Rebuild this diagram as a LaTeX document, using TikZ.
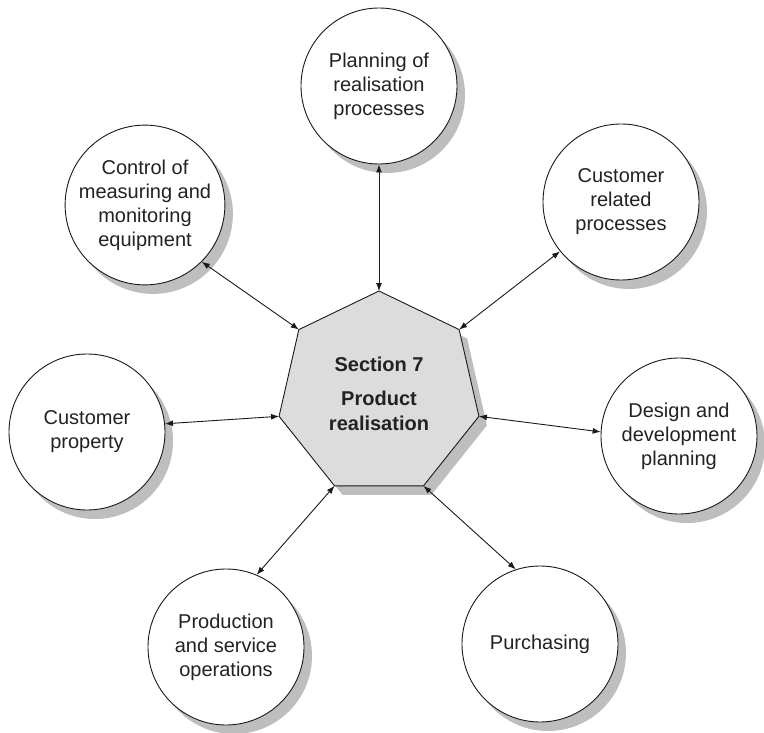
\documentclass[tikz,border=0pt]{standalone}
\usepackage{fontspec}
\setmainfont{Liberation Sans}
\usetikzlibrary{shapes.geometric,shadows,arrows.meta}

\definecolor{inkline}{HTML}{1A1A1A}
\definecolor{inktext}{HTML}{222222}
\definecolor{hubfill}{HTML}{DCDCDC}
\definecolor{shadowgray}{HTML}{BEBEBE}

\tikzset{
  castshadow/.style={drop shadow={shadow xshift=8pt, shadow yshift=-9pt, fill=shadowgray, opacity=1}},
  procbubble/.style={circle, draw=inkline, line width=0.9pt, fill=white, minimum size=156pt,
    inner sep=0pt, align=center, text=inktext, font=\fontsize{20}{24}\selectfont, castshadow},
  hubshape/.style={regular polygon, regular polygon sides=7, minimum size=205pt, inner sep=0pt,
    outer sep=0pt, draw=inkline, line width=0.9pt, fill=hubfill, align=center, text=inktext,
    font=\bfseries\fontsize{20}{25}\selectfont, castshadow},
  conn/.style={{Latex[length=8pt,width=6pt]}-{Latex[length=8pt,width=6pt]}, line width=0.9pt, draw=inkline}
}

\begin{document}
\begin{tikzpicture}[x=1pt, y=-1pt]
  \useasboundingbox (0,0) rectangle (764,733);

  % central hub
  \node[hubshape] (hept) at (379,393.5) {Section 7\\[9pt]Product\\realisation};

  % surrounding processes
  \node[procbubble] (plan)   at (379,86)  {Planning of\\realisation\\processes};
  \node[procbubble] (cust)   at (621,202) {Customer\\related\\processes};
  \node[procbubble] (ctrl)   at (145,205) {Control of\\measuring and\\monitoring\\equipment};
  \node[procbubble] (prop)   at (87,432)  {Customer\\property};
  \node[procbubble] (design) at (679,436) {Design and\\development\\planning};
  \node[procbubble] (prod)   at (226,647) {Production\\and service\\operations};
  \node[procbubble] (purch)  at (540,644) {Purchasing};

  % two-way links to the hub corners
  \draw[conn] (plan.270)   -- (hept.corner 1);
  \draw[conn] (ctrl.315)   -- (hept.corner 2);
  \draw[conn] (prop.6)     -- (hept.corner 3);
  \draw[conn] (prod.67)    -- (hept.corner 4);
  \draw[conn] (purch.108)  -- (hept.corner 5);
  \draw[conn] (design.177) -- (hept.corner 6);
  \draw[conn] (cust.219)   -- (hept.corner 7);
\end{tikzpicture}
\end{document}
